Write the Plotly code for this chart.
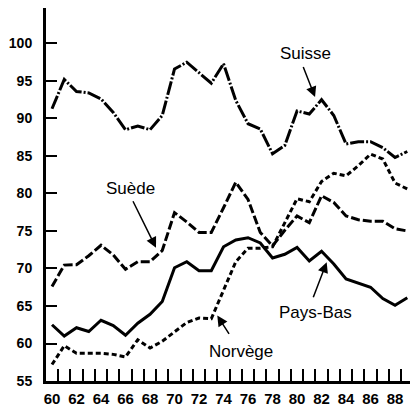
import plotly.graph_objects as go

years = list(range(1960, 1990))

suisse = [91.3, 95.2, 93.6, 93.4, 92.6, 90.8, 88.5, 89.0, 88.5, 90.4,
          96.6, 97.5, 96.1, 94.7, 97.3, 92.4, 89.3, 88.6, 85.3, 86.4,
          91.0, 90.6, 92.5, 90.4, 86.6, 86.9, 86.9, 86.1, 84.8, 85.6]
suede = [67.6, 70.45, 70.5, 71.7, 73.1, 71.8, 69.9, 70.9, 70.9, 72.4,
         77.45, 76.2, 74.8, 74.8, 78.1, 81.5, 79.2, 74.8, 73.0, 75.1,
         77.0, 76.1, 79.7, 78.8, 77.0, 76.5, 76.3, 76.3, 75.3, 75.0]
pays_bas = [62.5, 61.0, 62.1, 61.6, 63.1, 62.4, 61.1, 62.7, 63.9, 65.6,
            70.1, 70.9, 69.7, 69.7, 72.9, 73.8, 74.1, 73.4, 71.4, 71.9,
            72.8, 71.0, 72.3, 70.6, 68.6, 68.0, 67.5, 66.0, 65.1, 66.1]
norvege = [57.2, 59.7, 58.7, 58.7, 58.7, 58.55, 58.2, 60.5, 59.4, 60.3,
           61.6, 62.8, 63.4, 63.3, 67.1, 70.9, 72.7, 72.7, 72.9, 76.0,
           79.3, 78.9, 81.6, 82.7, 82.35, 83.7, 85.25, 84.6, 81.4, 80.6]

x_tick_vals = list(range(1960, 1989, 2))
x_tick_text = [str(v)[2:] for v in x_tick_vals]
x_minor_vals = [y + 0.5 for y in years]
y_tick_vals = list(range(55, 101, 5))
y_tick_text = [str(v) for v in y_tick_vals]

series = [
    ("Suisse", suisse, "14px,2px,2px,2px"),
    ("Suède", suede, "9px,3px"),
    ("Pays-Bas", pays_bas, "solid"),
    ("Norvège", norvege, "5px,3px"),
]

# label: (text, x, y) ; arrows: (tail x, tail y, head x, head y)
labels = [
    ("Suisse", 1980.65, 98.6),
    ("Suède", 1966.41, 80.67),
    ("Pays-Bas", 1981.53, 64.2),
    ("Norvège", 1975.43, 59.0),
]
arrows = [
    (1980.46, 97.07, 1981.47, 92.85),
    (1966.55, 79.16, 1968.49, 72.76),
    (1981.28, 65.96, 1982.42, 70.84),
    (1974.53, 61.07, 1973.49, 63.73),
]

fig = go.Figure()
for name, vals, dash in series:
    fig.add_trace(go.Scatter(x=years, y=vals, mode="lines", name=name,
                             line=dict(color="black", width=3, dash=dash),
                             showlegend=False))

annotations = []
for text, x, y in labels:
    annotations.append(dict(x=x, y=y, xref="x", yref="y", text=text,
                            showarrow=False, xanchor="center", yanchor="middle",
                            font=dict(family="Liberation Sans, Arial, sans-serif",
                                      size=17, color="black")))
for tx, ty, hx, hy in arrows:
    annotations.append(dict(x=hx, y=hy, ax=tx, ay=ty, xref="x", yref="y",
                            axref="x", ayref="y", text="", showarrow=True,
                            arrowhead=2, arrowsize=1.4, arrowwidth=1.5,
                            arrowcolor="black", standoff=0, startstandoff=0))

y_font = dict(family="Liberation Sans, Arial, sans-serif",
              size=14, color="black", weight="bold")
x_font = dict(family="Liberation Sans, Arial, sans-serif",
              size=15, color="black", weight="bold")

fig.update_layout(
    width=410, height=414,
    margin=dict(l=46, r=0, t=8, b=33),
    paper_bgcolor="white", plot_bgcolor="white",
    annotations=annotations,
    xaxis=dict(range=[1959.51, 1989.22], showgrid=False, zeroline=False,
               showline=True, linewidth=3, linecolor="black",
               tickmode="array", tickvals=x_tick_vals, ticktext=x_tick_text,
               ticks="", ticklabelstandoff=2,
               tickfont=x_font,
               minor=dict(tickmode="array", tickvals=x_minor_vals,
                          ticks="inside", ticklen=12, tickwidth=2,
                          tickcolor="black", showgrid=False)),
    yaxis=dict(range=[55, 104.73], showgrid=False, zeroline=False,
               showline=True, linewidth=3, linecolor="black",
               tickvals=y_tick_vals, ticktext=y_tick_text,
               ticks="inside", ticklen=11, tickwidth=2, tickcolor="black",
               ticklabelstandoff=8, tickfont=y_font),
)

fig.write_html("out.html", config={"displayModeBar": False},
               post_script="document.body.style.margin='0';")
